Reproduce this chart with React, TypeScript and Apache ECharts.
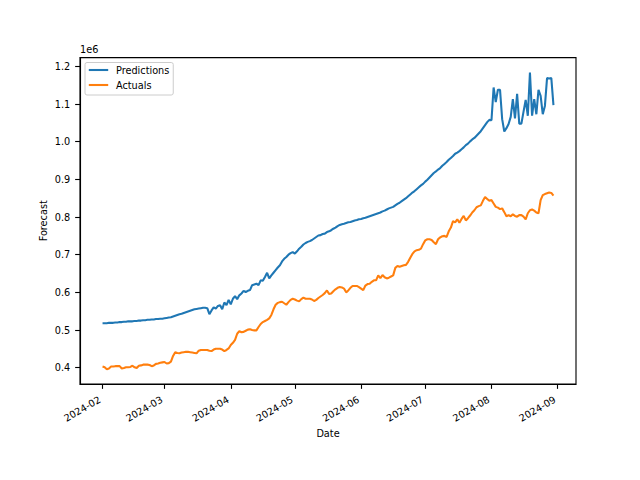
import React, { useEffect, useRef } from 'react';
import * as echarts from 'echarts';

// Daily values (in thousands) from 2024-02-01 to 2024-08-30
const predictionsK = [
  518, 518, 518, 519, 519, 519, 520, 520, 521, 521,
  522, 522, 523, 523, 523, 524, 524, 525, 525, 526,
  526, 527, 527, 528, 528, 529, 529, 530, 530, 531,
  532, 533, 534, 536, 538, 540, 542, 543, 545, 547,
  549, 551, 553, 555, 556, 557, 558, 559, 559, 558,
  542, 552, 560, 557, 564, 566, 555, 573, 566, 580,
  568, 583, 590, 582, 592, 597, 604, 601, 604, 606,
  619, 621, 623, 619, 632, 631, 641, 652, 637, 645,
  652, 659, 666, 672, 682, 689, 694, 700, 704, 707,
  703, 709, 716, 721, 727, 731, 734, 736, 739, 743,
  747, 751, 752, 755, 756, 760, 762, 765, 769, 772,
  776, 779, 781, 782, 784, 786, 787, 789, 791, 792,
  794, 795, 797, 798, 800, 802, 804, 806, 808, 810,
  812, 815, 817, 820, 823, 825, 827, 831, 835, 838,
  842, 846, 850, 855, 860, 865, 869, 874, 879, 884,
  888, 894, 899, 905, 911, 917, 921, 926, 930, 936,
  941, 946, 952, 957, 962, 968, 971, 975, 980, 985,
  991, 995, 1001, 1006, 1010, 1016, 1022, 1028, 1036, 1044,
  1052, 1058, 1057, 1144, 1105, 1138, 1138, 1060, 1027, 1036,
  1047, 1066, 1113, 1062, 1127, 1048, 1048, 1080, 1111, 1069,
  1184, 1069, 1113, 1073, 1138, 1122, 1073, 1095, 1169, 1168,
  1169, 1097,
];

const actualsK = [
  403, 401, 396, 398, 403, 403, 404, 404, 404, 398,
  399, 401, 401, 402, 405, 401, 399, 405, 406, 408,
  408, 408, 407, 404, 406, 410, 411, 413, 414, 415,
  411, 412, 416, 431, 441, 439, 438, 440, 441, 442,
  442, 441, 440, 439, 438, 445, 447, 447, 447, 447,
  445, 444, 448, 450, 450, 450, 448, 444, 447, 451,
  460, 466, 474, 490, 497, 494, 495, 498, 501, 502,
  500, 499, 499, 508, 516, 521, 524, 527, 531, 540,
  555, 567, 572, 574, 575, 571, 567, 574, 580, 583,
  581, 578, 576, 582, 586, 583, 583, 583, 581, 577,
  580, 585, 589, 593, 598, 605, 596, 597, 603, 608,
  612, 614, 613, 610, 600, 605, 612, 617, 617, 617,
  614, 610, 606, 618, 622, 623, 628, 632, 632, 645,
  638, 646, 640, 637, 639, 642, 645, 665, 670, 668,
  670, 672, 673, 681, 692, 702, 709, 712, 713, 716,
  728, 738, 741, 741, 739, 733, 728, 741, 746, 749,
  750, 747, 762, 772, 789, 786, 794, 785, 795, 803,
  791, 797, 804, 812, 818, 826, 829, 831, 843, 853,
  848, 843, 845, 836, 827, 825, 821, 823, 813, 802,
  805, 802, 807, 803, 801, 805, 805, 801, 794, 810,
  818, 820, 817, 812, 810, 845, 858, 861, 863, 865,
  864, 857,
];

const monthTicks = ['2024-02', '2024-03', '2024-04', '2024-05', '2024-06', '2024-07', '2024-08', '2024-09'];
const yTickLabels = ['0.4', '0.5', '0.6', '0.7', '0.8', '0.9', '1.0', '1.1', '1.2'];

const FS = 9.72;
const FF = 'DejaVu Sans';
const BLUE = '#1f77b4';
const ORANGE = '#ff7f0e';
const LW = 2.08;
const AW = 1.11;

export default function App() {
  const ref = useRef<HTMLDivElement>(null);

  useEffect(() => {
    if (!ref.current) return;
    const chart = echarts.init(ref.current, null, { renderer: 'svg' });

    const dates = predictionsK.map((_, i) => new Date(2024, 1, 1 + i).getTime());
    const predData = predictionsK.map((v, i) => [dates[i], v * 1000]);
    const actData = actualsK.map((v, i) => [dates[i], v * 1000]);

    const span = dates[dates.length - 1] - dates[0];
    const xMin = dates[0] - 0.05 * span;
    const xMax = dates[dates.length - 1] + 0.05 * span;

    const allVals = predictionsK.concat(actualsK).map((v) => v * 1000);
    const lo = Math.min(...allVals);
    const hi = Math.max(...allVals);
    const yMin = lo - 0.05 * (hi - lo);
    const yMax = hi + 0.05 * (hi - lo);

    const monthValues = monthTicks.map((s) => {
      const [y, m] = s.split('-').map(Number);
      return new Date(y, m - 1, 1).getTime();
    });
    const yTickValues = yTickLabels.map((s) => Math.round(parseFloat(s) * 1e6));

    const fmtMonth = (v: number) => {
      const d = new Date(v);
      return `${d.getFullYear()}-${String(d.getMonth() + 1).padStart(2, '0')}`;
    };

    const option: any = {
      animation: false,
      backgroundColor: '#ffffff',
      textStyle: { fontFamily: FF },
      grid: {
        left: 80,
        top: 57.6,
        width: 496,
        height: 326.4,
        show: true,
        borderColor: '#000',
        borderWidth: AW,
        outerBoundsMode: 'none',
      },
      legend: {
        data: ['Predictions', 'Actuals'],
        orient: 'vertical',
        left: 85,
        top: 62.5,
        padding: [2, 3.9, 4.5, 3.8],
        itemWidth: 19.4,
        itemHeight: LW,
        itemGap: 4,
        icon: 'rect',
        selectedMode: false,
        backgroundColor: 'rgba(255,255,255,0.8)',
        borderColor: '#cccccc',
        borderWidth: 1,
        borderRadius: 2,
        textStyle: {
          fontSize: FS,
          fontFamily: FF,
          color: '#000',
          lineHeight: 11,
          padding: [0, 0, 0, 2.8],
        },
      },
      xAxis: {
        type: 'value',
        min: xMin,
        max: xMax,
        scale: true,
        axisLine: { show: true, onZero: false, lineStyle: { color: '#000', width: AW } },
        axisTick: {
          show: true,
          length: 4.86,
          lineStyle: { color: '#000', width: AW },
          customValues: monthValues,
        },
        axisLabel: {
          customValues: monthValues,
          rotate: 30,
          margin: 13,
          padding: [0, 3.2, 0, 0],
          formatter: fmtMonth,
          color: '#000',
          fontSize: FS,
          fontFamily: FF,
        },
        splitLine: { show: false },
      },
      yAxis: {
        type: 'value',
        min: yMin,
        max: yMax,
        scale: true,
        axisLine: { show: true, onZero: false, lineStyle: { color: '#000', width: AW } },
        axisTick: {
          show: true,
          length: 4.86,
          lineStyle: { color: '#000', width: AW },
          customValues: yTickValues,
        },
        axisLabel: {
          customValues: yTickValues,
          margin: 9.72,
          formatter: (v: number) => (v / 1e6).toFixed(1),
          color: '#000',
          fontSize: FS,
          fontFamily: FF,
        },
        splitLine: { show: false },
      },
      series: [
        {
          name: 'Predictions',
          type: 'line',
          data: predData,
          showSymbol: false,
          symbol: 'none',
          color: BLUE,
          lineStyle: { color: BLUE, width: LW },
          itemStyle: { color: BLUE },
        },
        {
          name: 'Actuals',
          type: 'line',
          data: actData,
          showSymbol: false,
          symbol: 'none',
          color: ORANGE,
          lineStyle: { color: ORANGE, width: LW },
          itemStyle: { color: ORANGE },
        },
      ],
      graphic: [
        {
          type: 'text',
          x: 80,
          y: 49.5,
          style: { text: '1e6', fontSize: FS, fontFamily: FF, fill: '#000', align: 'left', verticalAlign: 'middle' },
        },
        {
          type: 'text',
          x: 43.7,
          y: 220.8,
          rotation: Math.PI / 2,
          style: { text: 'Forecast', fontSize: FS, fontFamily: FF, fill: '#000', align: 'center', verticalAlign: 'middle' },
        },
        {
          type: 'text',
          x: 328,
          y: 433,
          style: { text: 'Date', fontSize: FS, fontFamily: FF, fill: '#000', align: 'center', verticalAlign: 'middle' },
        },
      ],
    };

    chart.setOption(option);
    return () => chart.dispose();
  }, []);

  return (
    <div
      ref={ref}
      style={{ position: 'fixed', left: 0, top: 0, width: 640, height: 480, background: '#fff' }}
    />
  );
}
